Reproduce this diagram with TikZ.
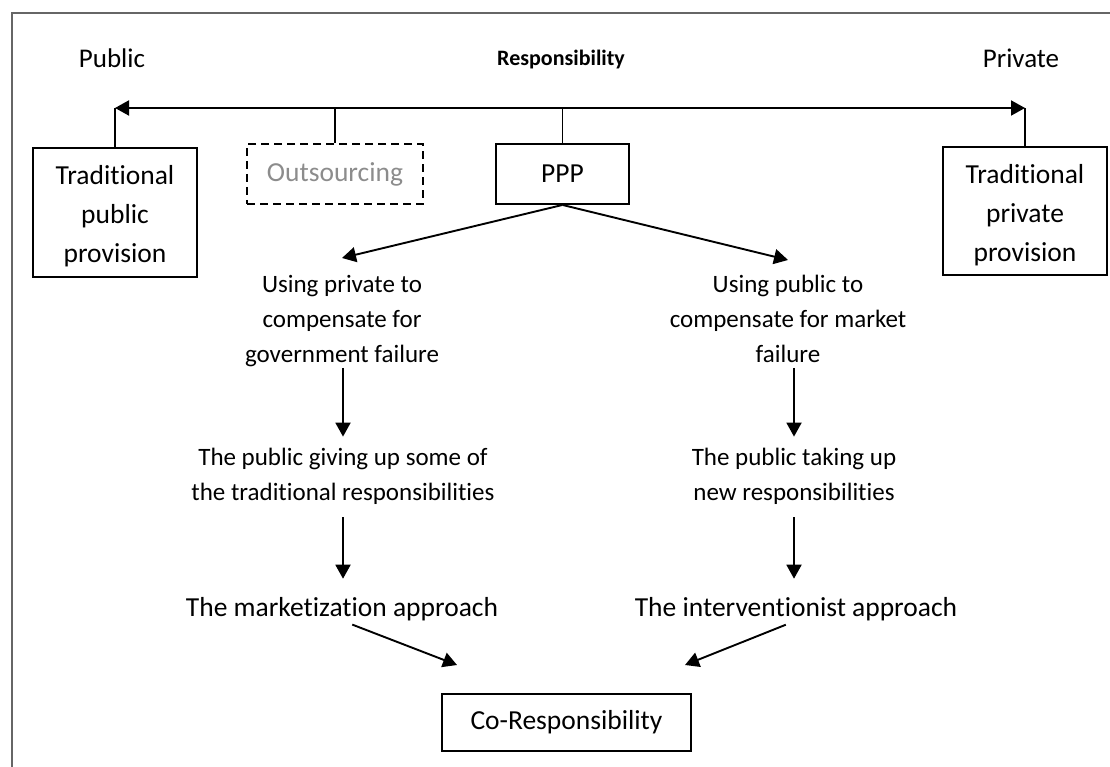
\documentclass[tikz,border=0pt]{standalone}
\usepackage{fontspec}
\setmainfont{Carlito}[Ligatures={NoCommon,NoRequired,NoContextual},Contextuals={NoAlternate}]
\usetikzlibrary{arrows.meta}
% raises the first line of the tall boxes so their text sits lower
\newcommand\firstlinepad{\rule{0pt}{27pt}}
\begin{document}
\begin{tikzpicture}[x=1pt,y=-1pt,
  every node/.style={inner sep=0pt, align=center},
  frame/.style={draw=black!60, line width=1.9pt},
  box/.style={draw, line width=1.9pt, font=\fontsize{27.5}{39}\selectfont},
  softbox/.style={box, dash pattern=on 8pt off 5pt, text=black!45},
  head/.style={font=\fontsize{27}{32}\selectfont},
  lbl/.style={font=\fontsize{25}{35}\selectfont},
  biglbl/.style={font=\fontsize{27.5}{35}\selectfont},
  link/.style={line width=1.7pt},
  arr/.style={line width=1.9pt, -{Triangle[length=14pt,width=15pt]}},
  both/.style={line width=1.9pt, {Triangle[length=14pt,width=15pt]}-{Triangle[length=14pt,width=15pt]}},
]
\useasboundingbox (0,0) rectangle (1110,767);
% open frame: left and top edges only
\draw[frame] (12,767) -- (12,13) -- (1110,13);

% scale headings
\node[head, anchor=base] (pub) at (112,68) {Public};
\node[font=\bfseries\fontsize{22}{26}\selectfont, anchor=base] (resp) at (561,66) {Responsibility};
\node[head, anchor=base] (priv) at (1021,68) {Private};

% provision forms
\node[box, minimum width=164pt, minimum height=129pt] (tpub) at (115,212.5) {\firstlinepad Traditional\\public\\provision};
\node[softbox, minimum width=176pt, minimum height=60pt] (outs) at (335,174) {Outsourcing};
\node[box, minimum width=133pt, minimum height=60pt] (ppp) at (562.5,174) {PPP};
\node[box, minimum width=164pt, minimum height=128pt] (tprv) at (1025,211) {\firstlinepad Traditional\\private\\provision};

% the two branches
\node[lbl] (upriv) at (342,321) {Using private to\\compensate for\\government failure};
\node[lbl] (upub) at (788,319) {Using public to\\compensate for market\\failure};
\node[lbl] (giveup) at (343,476) {The public giving up some of\\the traditional responsibilities};
\node[lbl] (takeup) at (794,476) {The public taking up\\new responsibilities};
\node[biglbl, anchor=base] (market) at (342,616) {The marketization approach};
\node[biglbl, anchor=base] (interv) at (796,616) {The interventionist approach};

\node[box, minimum width=249pt, minimum height=57pt] (cor) at (566.5,722.5) {Co-Responsibility};

% responsibility axis
\coordinate (axL) at (115,108);
\coordinate (axR) at (1025,108);
\draw[both] (axL) -- (axR);
\draw[link] (tpub.north) -- (axL);
\draw[link] (outs.north) -- (outs.north |- axL);
\draw[link] (ppp.north) -- (ppp.north |- axL);
\draw[link] (tprv.north) -- (axR);

% PPP splits into two branches
\coordinate (tipL) at (342,258);
\coordinate (tipR) at (788,260);
\draw[arr] (ppp.south) -- (tipL);
\draw[arr] (ppp.south) -- (tipR);

% left branch
\draw[arr, shorten <=1pt, shorten >=11pt] (upriv.south -| giveup.north) -- (giveup.north);
\draw[arr, shorten <=13pt, shorten >=18pt] (giveup.south) -- (giveup.south |- market.north);
% right branch
\draw[arr, shorten <=5pt, shorten >=11pt] (upub.south -| takeup.north) -- (takeup.north);
\draw[arr, shorten <=13pt, shorten >=18pt] (takeup.south) -- (takeup.south |- interv.north);

% both approaches lead to co-responsibility
\coordinate (cinL) at (457,665);
\coordinate (cinR) at (685,665);
\draw[arr, shorten <=11pt] (market.south) -- (cinL);
\draw[arr, shorten <=11pt] (interv.south) -- (cinR);
\end{tikzpicture}
\end{document}
